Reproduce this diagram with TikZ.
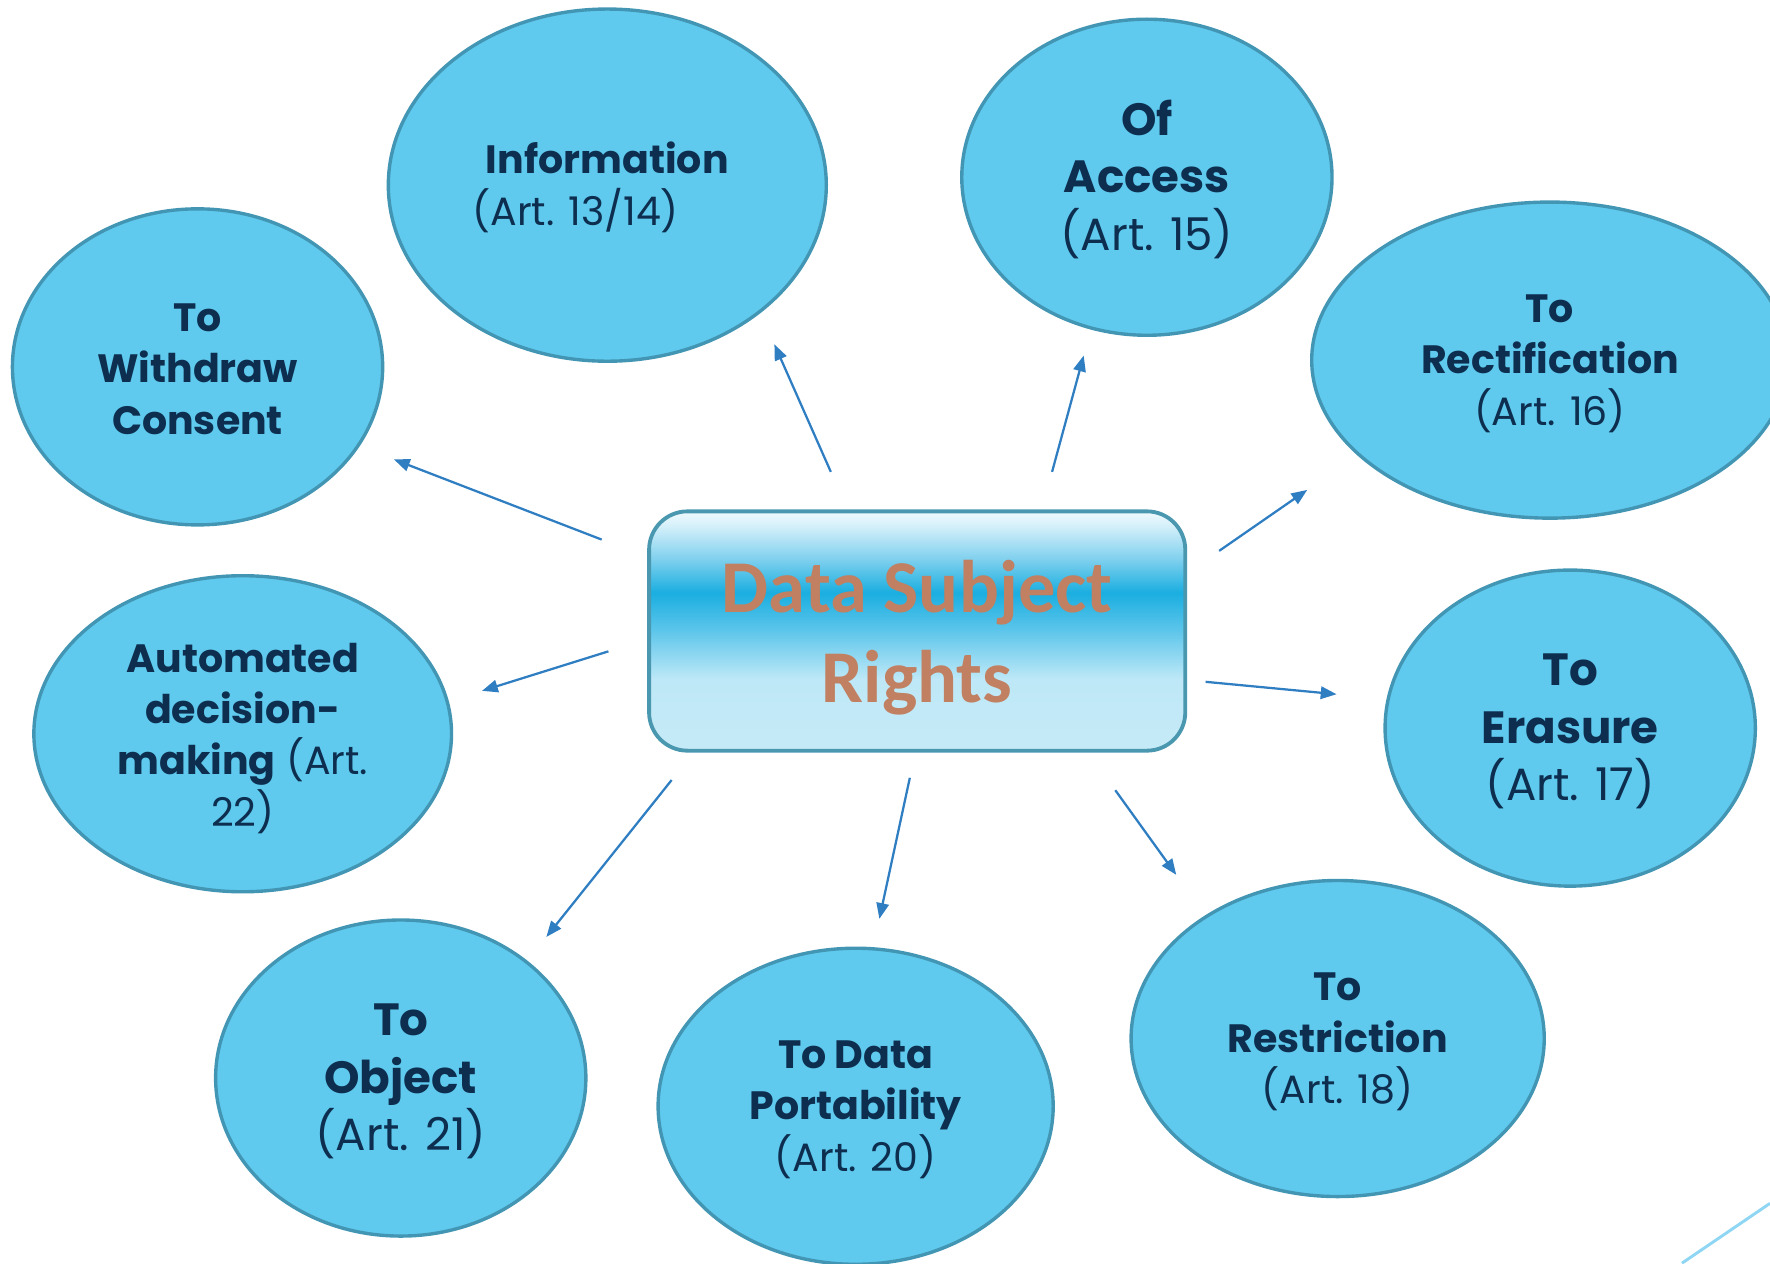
\documentclass[tikz,border=0pt]{standalone}
\usepackage{fontspec}
\setmainfont{Poppins}
\newfontfamily\dsrfont{Carlito}
\usetikzlibrary{shapes.geometric,arrows.meta}
\definecolor{ellfill}{HTML}{5FCAEE}
\definecolor{elldraw}{HTML}{4296B3}
\definecolor{txtnavy}{HTML}{0D2E4F}
\definecolor{arrcol}{HTML}{2F7EC2}
\definecolor{dsrtxt}{HTML}{C08061}
\definecolor{boxdraw}{HTML}{4A97B0}
\definecolor{decoline}{HTML}{8ED6F3}
\definecolor{shBot}{HTML}{C6EAF7}
\definecolor{shLight}{HTML}{BEE8F7}
\definecolor{shMid}{HTML}{5EC6EB}
\definecolor{shStrong}{HTML}{1AAEE0}
\definecolor{shUp}{HTML}{7FD0EE}
\definecolor{shUpp}{HTML}{D5F0FA}
\definecolor{shTop}{HTML}{F0FAFD}
\pgfdeclareverticalshading{dsrshade}{100bp}{color(0bp)=(shBot); color(25bp)=(shBot); color(40bp)=(shLight); color(50bp)=(shMid); color(58bp)=(shStrong); color(65bp)=(shUp); color(72bp)=(shUpp); color(75bp)=(shTop); color(100bp)=(shTop)}
\tikzset{
  ellnode/.style={ellipse, draw=elldraw, line width=1.5pt, fill=ellfill, inner sep=0pt},
  ltxt/.style={inner sep=0pt, align=center, text=txtnavy, font=\fontsize{17.5}{22.75}\selectfont},
  bigltxt/.style={ltxt, font=\fontsize{20}{25.5}\selectfont},
  centerbox/.style={draw=boxdraw, line width=1.7pt, rounded corners=17pt, shading=dsrshade,
    minimum width=237.5pt, minimum height=106pt, inner sep=0pt},
  centertext/.style={align=center, text=dsrtxt, inner sep=0pt,
    font=\dsrfont\bfseries\fontsize{33}{40}\selectfont},
  arr/.style={draw=arrcol, line width=1pt, -{Triangle[length=7pt,width=5.5pt]}},
  deco/.style={draw=decoline, line width=1.3pt}
}
\begin{document}
\begin{tikzpicture}[x=0.5pt,y=-0.5pt]
\useasboundingbox (0,0) rectangle (1568,1119);
% centre
\node[centerbox] (dsr) at (812.5,559) {};
\node[centertext] (dsrlabel) at (812.5,565) {Data Subject\\Rights};
% ellipses
\node[ellnode, minimum width=194pt, minimum height=156pt] (info) at (538,164) {};
\node[ellnode, minimum width=164pt, minimum height=140pt] (access) at (1016,157) {};
\node[ellnode, minimum width=211pt, minimum height=140pt] (rect) at (1373,319) {};
\node[ellnode, minimum width=164pt, minimum height=140pt] (erasure) at (1391,645) {};
\node[ellnode, minimum width=183pt, minimum height=140pt] (restr) at (1185,920) {};
\node[ellnode, minimum width=175pt, minimum height=140pt] (port) at (758,980) {};
\node[ellnode, minimum width=164pt, minimum height=140pt] (object) at (355,955) {};
\node[ellnode, minimum width=185pt, minimum height=140pt] (auto) at (215,650) {};
\node[ellnode, minimum width=164pt, minimum height=140pt] (withdraw) at (175,325) {};
% labels
\node[ltxt] (infolabel) at (538,166)
  {\textbf{Information}\\(Art. 13/14)\hspace*{28pt}};
\node[bigltxt] (accesslabel) at (1016,159) {\textbf{Of}\\\textbf{Access}\\(Art. 15)};
\node[ltxt] (rectlabel) at (1373,322) {\textbf{To}\\\textbf{Rectification}\\(Art. 16)};
\node[bigltxt] (erasurelabel) at (1391,648) {\textbf{To}\\\textbf{Erasure}\\(Art. 17)};
\node[ltxt] (restrlabel) at (1185,923) {\textbf{To}\\\textbf{Restriction}\\(Art. 18)};
\node[ltxt] (portlabel) at (758,983) {\textbf{To Data}\\\textbf{Portability}\\(Art. 20)};
\node[bigltxt] (objectlabel) at (355,958) {\textbf{To}\\\textbf{Object}\\(Art. 21)};
\node[ltxt] (autolabel) at (215,654)
  {\textbf{Automated}\\\textbf{decision-}\\\textbf{making} (Art.\\22)};
\node[ltxt] (withdrawlabel) at (175,327) {\textbf{To}\\\textbf{Withdraw}\\\textbf{Consent}};
% arrow end points
\coordinate (s1) at (736,418);  \coordinate (e1) at (686,305);
\coordinate (s2) at (932,418);  \coordinate (e2) at (960,315);
\coordinate (s3) at (1080,488); \coordinate (e3) at (1158,434);
\coordinate (s4) at (1068,604); \coordinate (e4) at (1184,615);
\coordinate (s5) at (988,700);  \coordinate (e5) at (1042,775);
\coordinate (s6) at (806,689);  \coordinate (e6) at (779,814);
\coordinate (s7) at (595,691);  \coordinate (e7) at (484,830);
\coordinate (s8) at (539,577);  \coordinate (e8) at (427,612);
\coordinate (s9) at (533,478);  \coordinate (e9) at (349,407);
\draw[arr] (s1) -- (e1);
\draw[arr] (s2) -- (e2);
\draw[arr] (s3) -- (e3);
\draw[arr] (s4) -- (e4);
\draw[arr] (s5) -- (e5);
\draw[arr] (s6) -- (e6);
\draw[arr] (s7) -- (e7);
\draw[arr] (s8) -- (e8);
\draw[arr] (s9) -- (e9);
% decorative line
\coordinate (d1) at (1490,1119); \coordinate (d2) at (1568,1066);
\draw[deco] (d1) -- (d2);
\end{tikzpicture}
\end{document}
